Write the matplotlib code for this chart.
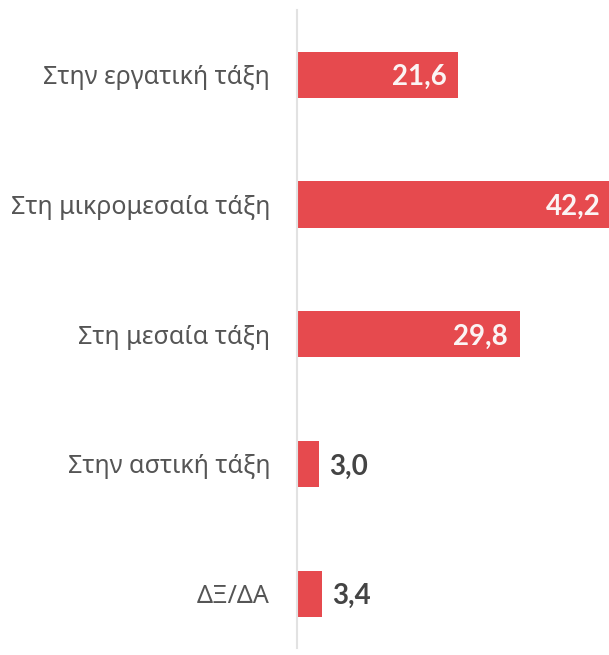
import matplotlib
matplotlib.use("Agg")
import matplotlib.pyplot as plt
from matplotlib.transforms import offset_copy

categories = ["Στην εργατική τάξη", "Στη μικρομεσαία τάξη", "Στη μεσαία τάξη",
              "Στην αστική τάξη", "ΔΞ/ΔΑ"]
values = [21.6, 42.2, 29.8, 3.0, 3.4]
value_labels = ["21,6", "42,2", "29,8", "3,0", "3,4"]

bar_color = "#e64a4e"
W, H = 609, 655
fig = plt.figure(figsize=(W / 100, H / 100), dpi=100)
ax = fig.add_axes([296.5 / W, 7 / H, 1 - 296.5 / W, 638 / H])

pos = list(range(len(categories)))
ax.barh(pos, values, height=0.355, color=bar_color, zorder=2)
ax.set_xlim(0, 41.7)
ax.set_ylim(4.42, -0.50)

ax.set_yticks(pos)
ax.set_yticklabels(categories, fontfamily=["Noto Sans", "DejaVu Sans"], fontsize=18, color="#555555")
ax.tick_params(axis="y", length=0, pad=19)
ax.set_xticks([])
for s in ["top", "right", "bottom"]:
    ax.spines[s].set_visible(False)
ax.spines["left"].set_color("#e2e2e2")
ax.spines["left"].set_linewidth(1.5)

for p, v, lab in zip(pos, values, value_labels):
    if v > 10:
        tr = offset_copy(ax.transData, fig=fig, x=-12, y=0, units="dots")
        ax.text(v, p, lab, transform=tr, ha="right", va="center_baseline",
                fontfamily="Lato", fontweight="bold", fontsize=20, color="#fbf4f4")
    else:
        tr = offset_copy(ax.transData, fig=fig, x=10, y=0, units="dots")
        ax.text(v, p, lab, transform=tr, ha="left", va="center_baseline",
                fontfamily="Lato", fontweight="bold", fontsize=20, color="#444444")

fig.savefig("out.png", dpi=100)
